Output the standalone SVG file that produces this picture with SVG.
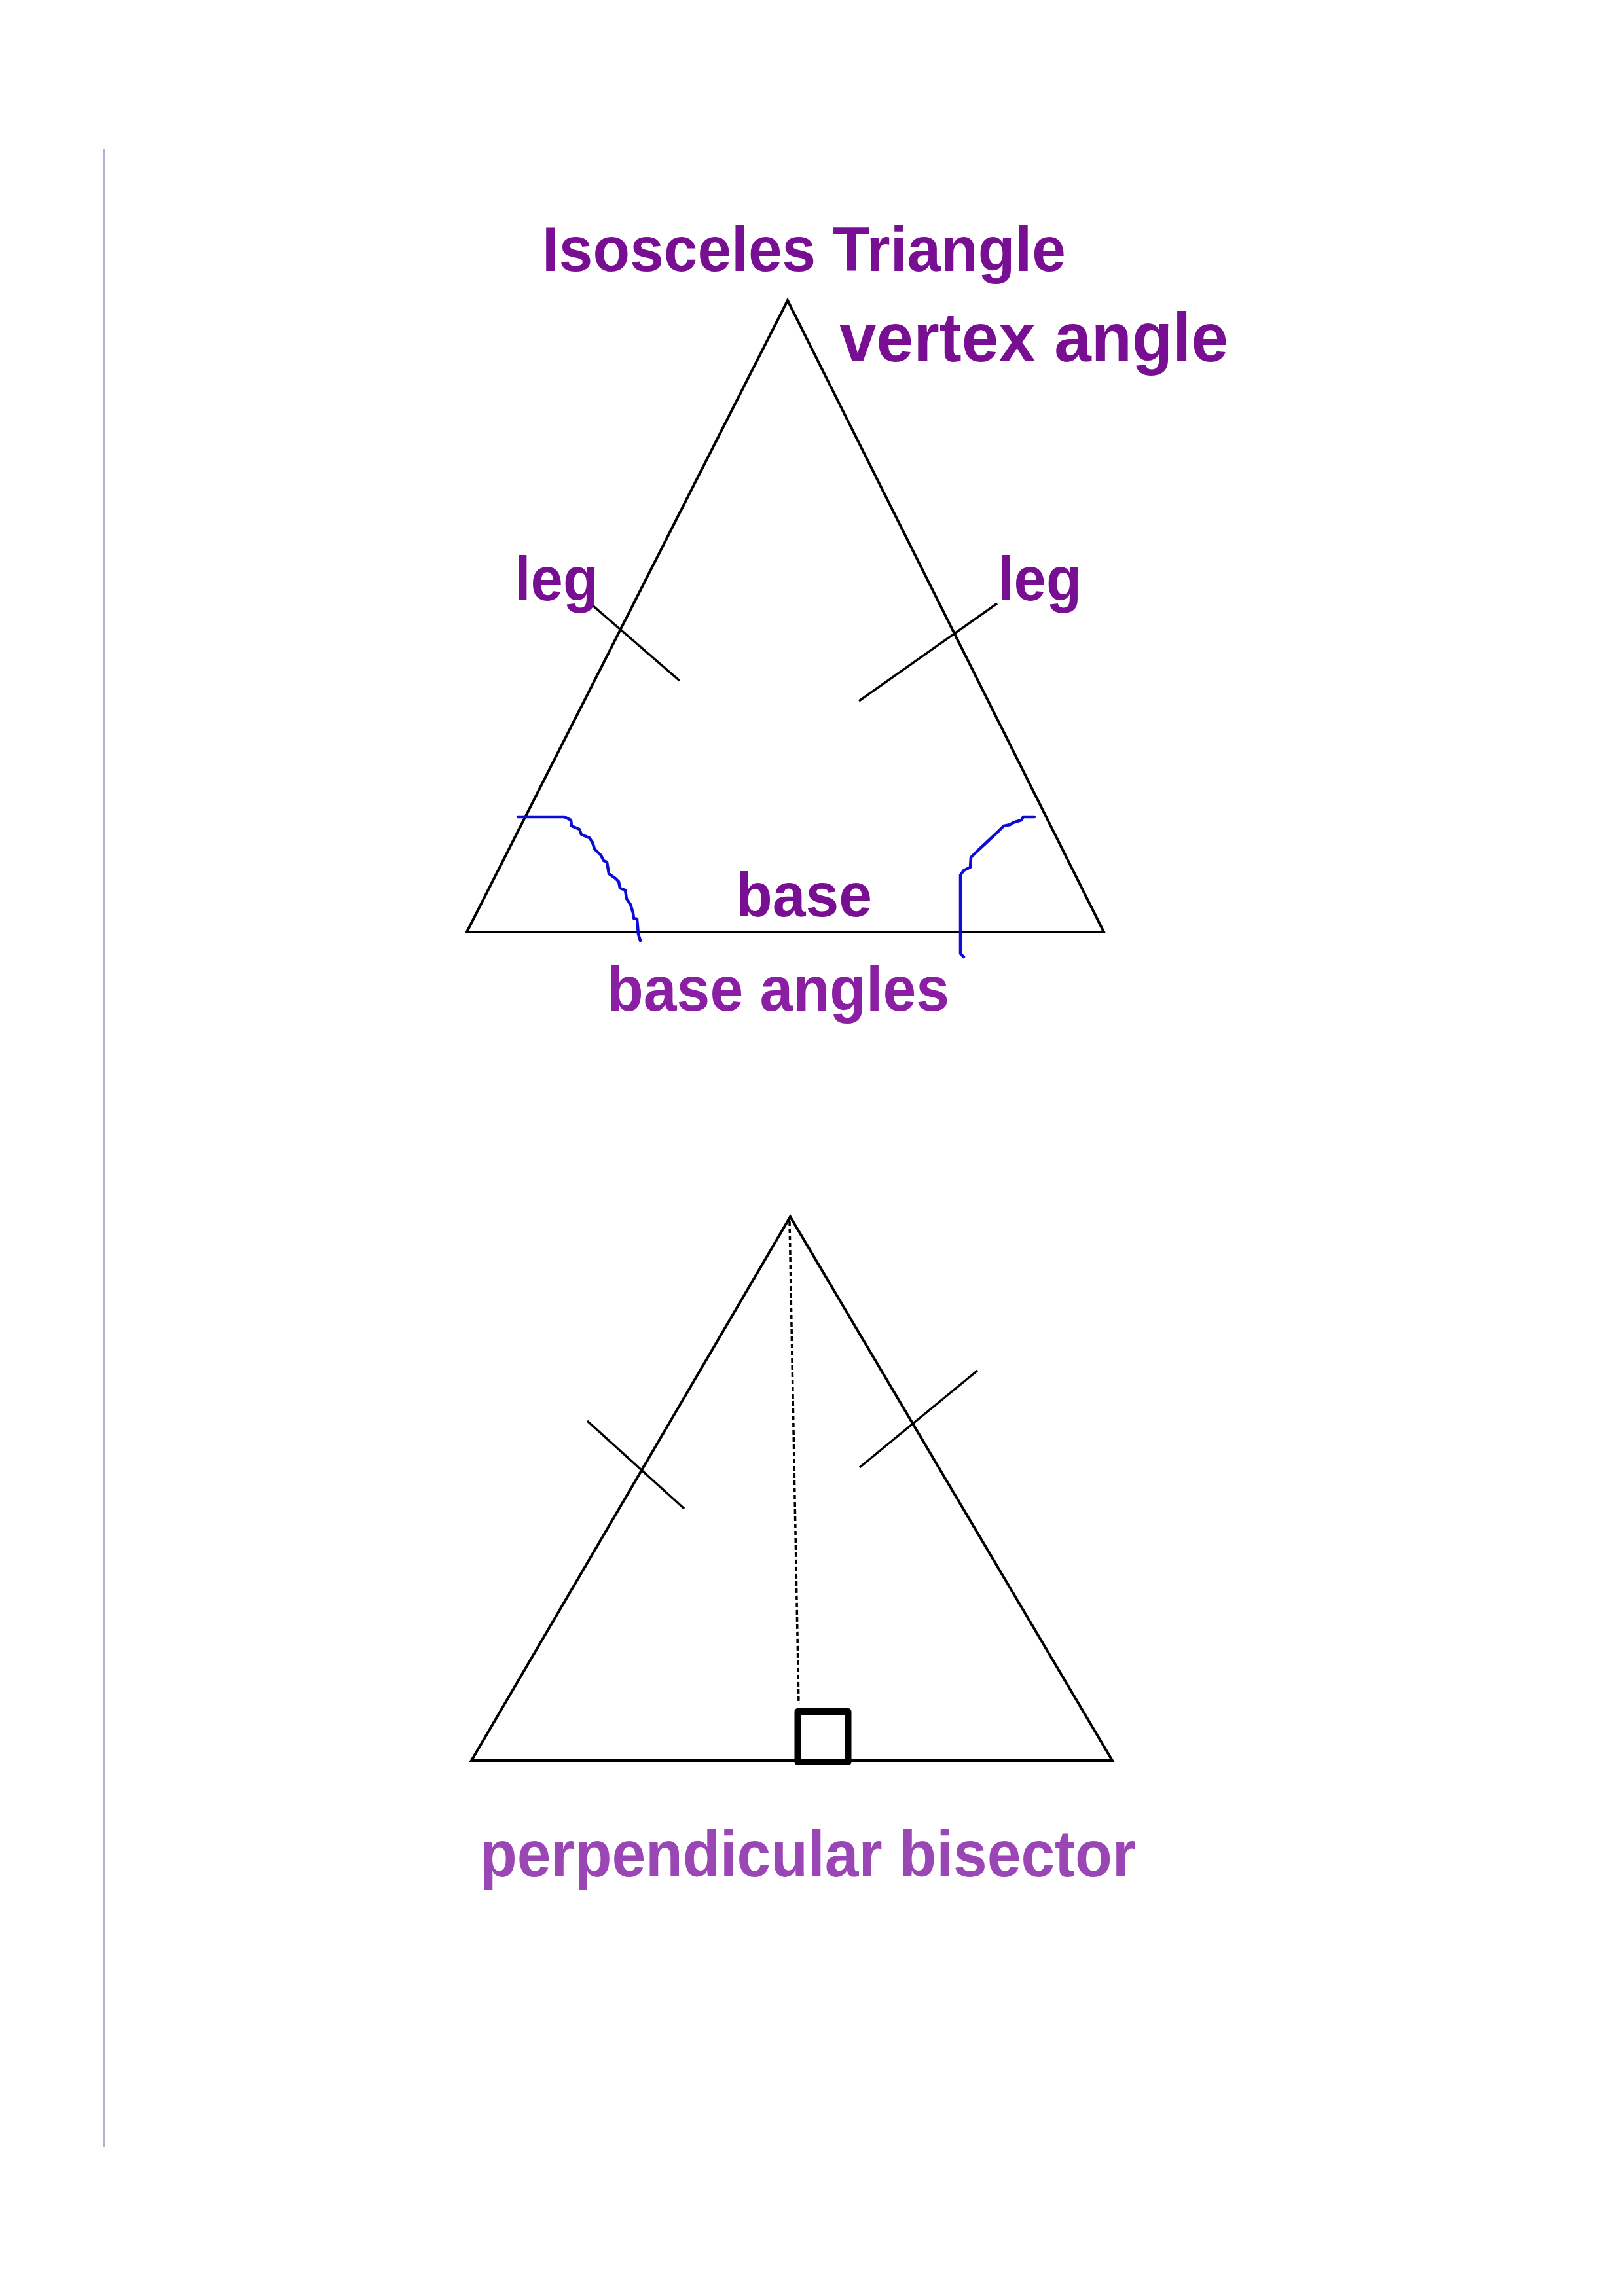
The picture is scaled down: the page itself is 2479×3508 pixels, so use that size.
<svg xmlns="http://www.w3.org/2000/svg" width="2479" height="3508" viewBox="0 0 2479 3508">
<style>
.tri{fill:none;stroke:#000;stroke-width:4;stroke-linejoin:miter}
.tick{stroke:#000;stroke-width:3.5;stroke-linecap:butt}
.arc{fill:none;stroke:#0c0cd6;stroke-width:4.5;stroke-linejoin:round;stroke-linecap:round}
.lbl{font-family:"Liberation Sans",Arial,sans-serif;font-weight:bold;lengthAdjust:spacingAndGlyphs}
.dark{fill:#780e91}
.mid{fill:#8a1fa3}
.light{fill:#9a46b4}
</style>
<rect width="2479" height="3508" fill="#fff"/>
<line x1="159" y1="227" x2="159" y2="3280" stroke="#b4b0d8" stroke-width="2.5"/>

<g id="triangle1">
<polygon class="tri" points="1203,459 713,1424 1686,1424"/>
</g>
<g id="triangle2">
<polygon class="tri" points="1207,1859 720,2690 1699,2690"/>
<rect x="1218.5" y="2615" width="77" height="77" fill="none" stroke="#000" stroke-width="10" stroke-linejoin="round"/>
</g>

<g id="connectors">
<line class="tick" x1="904" y1="924" x2="1038" y2="1040"/>
<line class="tick" x1="1523" y1="922" x2="1312" y2="1071"/>
<polyline class="arc" points="791,1248 862,1248 872,1253 873,1262 885,1267 888,1275 900,1280 905,1287 908,1297 918,1307 922,1315 927,1317 930,1335 940,1342 945,1347 947,1357 955,1360 957,1373 963,1382 967,1395 968,1403 973,1404 975,1427 978,1437"/>
<polyline class="arc" points="1580,1248 1563,1248 1560,1253 1547,1257 1543,1260 1533,1262 1525,1270 1507,1287 1493,1300 1483,1310 1482,1325 1472,1330 1467,1337 1467,1457 1472,1462"/>
<line class="tick" x1="897" y1="2171" x2="1045" y2="2305"/>
<line class="tick" x1="1493" y1="2094" x2="1313" y2="2242"/>
<line x1="1206" y1="1866" x2="1220" y2="2604" stroke="#000" stroke-width="3.5" stroke-dasharray="7,4"/>
</g>

<g id="title"><text class="lbl dark" x="828" y="414" font-size="96" textLength="800" lengthAdjust="spacingAndGlyphs">Isosceles Triangle</text></g>
<g id="vertex-angle"><text class="lbl dark" x="1282" y="552" font-size="106" textLength="594" lengthAdjust="spacingAndGlyphs">vertex angle</text></g>
<g id="leg-left"><text class="lbl dark" x="786" y="917" font-size="95" textLength="128" lengthAdjust="spacingAndGlyphs">leg</text></g>
<g id="leg-right"><text class="lbl dark" x="1524" y="917" font-size="95" textLength="128" lengthAdjust="spacingAndGlyphs">leg</text></g>
<g id="base"><text class="lbl dark" x="1124" y="1400" font-size="95" textLength="208" lengthAdjust="spacingAndGlyphs">base</text></g>
<g id="base-angles"><text class="lbl mid" x="927" y="1544" font-size="96" textLength="523" lengthAdjust="spacingAndGlyphs">base angles</text></g>
<g id="perpendicular-bisector"><text class="lbl light" x="733" y="2867" font-size="100" textLength="1002" lengthAdjust="spacingAndGlyphs">perpendicular bisector</text></g>
</svg>
